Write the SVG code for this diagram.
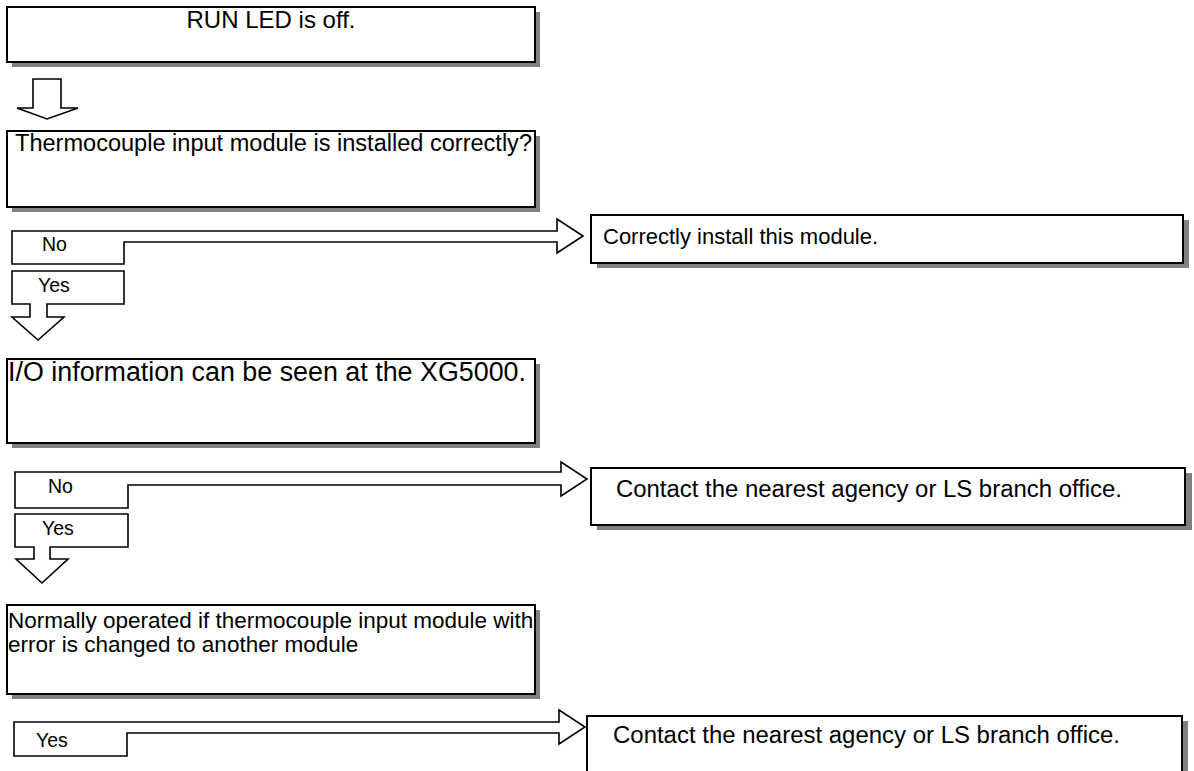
<svg xmlns="http://www.w3.org/2000/svg" width="1194" height="771" viewBox="0 0 1194 771">
<style>
.box{fill:#fff;stroke:#000;stroke-width:2}
.sh{fill:#808080}
.arr{fill:#fff;stroke:#000;stroke-width:1.6;stroke-linejoin:miter}
text{font-family:"Liberation Sans",Arial,sans-serif;fill:#000}
.t{font-size:23.5px}
.lbl{font-size:19.5px}
</style>
<rect width="1194" height="771" fill="#fff"/>
<g id="connectors">
<polygon class="arr" points="33,79 61,79 61,108 78,108 47,119 17,108 33,108"/>
<polygon class="arr" points="12,231 557,231 557,219 583,236 557,253 557,242 124,242 124,264 12,264"/>
<polygon class="arr" points="12,271 124,271 124,304 47,304 47,317 64,317 38,340 12,317 30,317 30,304 12,304"/>
<polygon class="arr" points="15,472 561,472 561,462 587,479 561,496 561,485 128,485 128,508 15,508"/>
<polygon class="arr" points="15,514 128,514 128,547 50,547 50,559 68,559 42,583 16,559 34,559 34,547 15,547"/>
<polygon class="arr" points="14,722 559,722 559,710 585,727 559,744 559,733 127,733 127,756 14,756"/>
<text class="lbl" x="42" y="251">No</text>
<text class="lbl" x="38" y="292">Yes</text>
<text class="lbl" x="48" y="493">No</text>
<text class="lbl" x="42" y="535">Yes</text>
<text class="lbl" x="36" y="747">Yes</text>
</g>
<g id="n1">
<rect class="sh" x="12" y="12" width="528" height="55"/>
<rect class="box" x="7" y="7" width="528" height="55"/>
<text class="t" x="271" y="28" text-anchor="middle" style="font-size:24px">RUN LED is off.</text>
</g>
<g id="n2">
<rect class="sh" x="12" y="136" width="528" height="76"/>
<rect class="box" x="7" y="131" width="528" height="76"/>
<text class="t" x="15" y="151" textLength="517" lengthAdjust="spacingAndGlyphs">Thermocouple input module is installed correctly?</text>
</g>
<g id="n3">
<rect class="sh" x="597" y="220" width="592" height="48"/>
<rect class="box" x="591" y="215" width="592" height="48"/>
<text class="t" x="603" y="244" style="font-size:22px">Correctly install this module.</text>
</g>
<g id="n4">
<rect class="sh" x="12" y="364" width="528" height="84"/>
<rect class="box" x="7" y="359" width="528" height="84"/>
<text class="t" x="8" y="381" textLength="518" lengthAdjust="spacingAndGlyphs" style="font-size:26.8px">I/O information can be seen at the XG5000.</text>
</g>
<g id="n5">
<rect class="sh" x="597" y="473" width="595" height="57"/>
<rect class="box" x="591" y="468" width="594" height="57"/>
<text class="t" x="616" y="497" textLength="506" lengthAdjust="spacingAndGlyphs">Contact the nearest agency or LS branch office.</text>
</g>
<g id="n6">
<rect class="sh" x="12" y="610" width="528" height="89"/>
<rect class="box" x="7" y="605" width="528" height="89"/>
<text class="t" x="8" y="628" style="font-size:22.5px">Normally operated if thermocouple input module with</text>
<text class="t" x="8" y="652" style="font-size:22.5px">error is changed to another module</text>
</g>
<g id="n7">
<rect class="sh" x="593" y="721" width="595" height="80"/>
<rect class="box" x="587" y="716" width="595" height="80"/>
<text class="t" x="613" y="743" textLength="507" lengthAdjust="spacingAndGlyphs">Contact the nearest agency or LS branch office.</text>
</g>
</svg>
